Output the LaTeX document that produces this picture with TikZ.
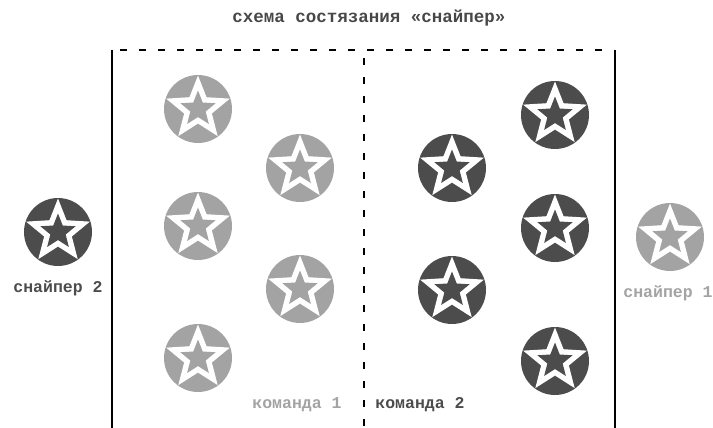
\documentclass[tikz,border=0pt]{standalone}
\usepackage{fontspec}
\newfontfamily\lblfont{Liberation Mono}
\usetikzlibrary{shapes.geometric}
\colorlet{lightteam}{black!36}
\colorlet{darkteam}{black!70}
\colorlet{titlecol}{black!72}
\tikzset{
  player/.style={circle, minimum size=68pt, inner sep=0pt, fill=#1,
    path picture={
      \node[star, star points=5, star point ratio=2.3, fill=white, minimum size=67pt, inner sep=0pt]
        at (path picture bounding box.center) {};
      \node[star, star points=5, star point ratio=2.3, fill=#1, minimum size=37pt, inner sep=0pt]
        at (path picture bounding box.center) {};
    }},
  lightplayer/.style={player=lightteam},
  darkplayer/.style={player=darkteam},
  lbl/.style={font=\lblfont\bfseries\fontsize{16.5}{18}\selectfont, inner sep=0pt, text=#1},
  titletext/.style={font=\lblfont\bfseries\fontsize{17.5}{19}\selectfont, inner sep=0pt, text=titlecol},
  frameline/.style={line width=2pt, black},
  dashline/.style={line width=2.5pt, black, dash pattern=on 7pt off 12pt},
}
\begin{document}
\begin{tikzpicture}[x=1pt, y=-1pt]
\useasboundingbox (0,0) rectangle (713,428);
% frame
\coordinate (tl) at (112,50);
\coordinate (tr) at (615,50);
\coordinate (bl) at (112,428);
\coordinate (br) at (615,428);
\coordinate (mt) at (364,58);
\coordinate (mb) at (364,428);
\draw[frameline] (tl) -- (bl);
\draw[frameline] (tr) -- (br);
\draw[dashline] ([xshift=8pt]tl) -- ([xshift=-6pt]tr);
\draw[dashline] (mt) -- (mb);
% title
\node[titletext] (title) at (369,18) {схема состязания «снайпер»};
% team 1 (light)
\node[lightplayer] (l1) at (198,109) {};
\node[lightplayer] (l2) at (300,168) {};
\node[lightplayer] (l3) at (198,226) {};
\node[lightplayer] (l4) at (300,289) {};
\node[lightplayer] (l5) at (198,358) {};
% team 2 (dark)
\node[darkplayer] (d1) at (555,115) {};
\node[darkplayer] (d2) at (452,168) {};
\node[darkplayer] (d3) at (555,228) {};
\node[darkplayer] (d4) at (452,290) {};
\node[darkplayer] (d5) at (555,361) {};
% snipers
\node[darkplayer] (s2) at (58,232) {};
\node[lightplayer] (s1) at (670,237) {};
\node[lbl=darkteam] (s2lbl) at (58,288) {снайпер 2};
\node[lbl=lightteam] (s1lbl) at (668,293) {снайпер 1};
% team labels
\node[lbl=lightteam] (t1lbl) at (297,405) {команда 1};
\node[lbl=darkteam] (t2lbl) at (420,405) {команда 2};
\end{tikzpicture}
\end{document}
